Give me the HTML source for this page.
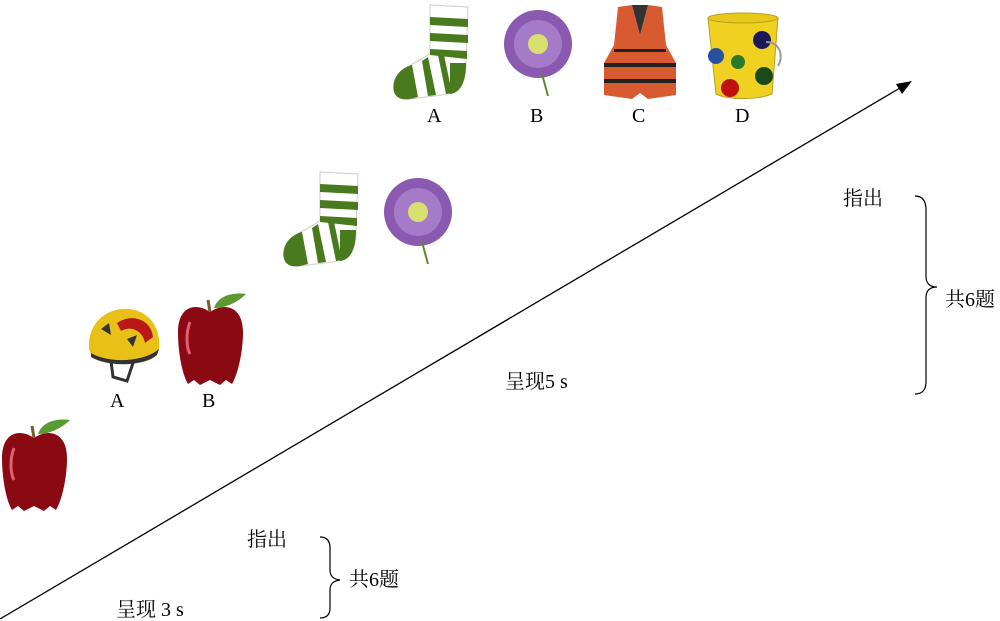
<!DOCTYPE html>
<html><head><meta charset="utf-8"><style>
html,body{margin:0;padding:0;background:#fff;}
svg{display:block;}
text{font-family:"Liberation Serif","Noto Serif CJK SC",serif;font-size:20px;fill:#000;}
</style></head><body>
<svg width="1000" height="621" viewBox="0 0 1000 621" xmlns="http://www.w3.org/2000/svg">
<defs>
<g id="apple">
 <path d="M34 20 C20 10 2 14 2 40 C2 60 6 82 12 92 L18 88 L24 93 L34 88 L44 93 L50 88 L56 92 C62 82 67 60 67 40 C67 14 48 10 34 20Z" fill="#8a0a14"/>
 <path d="M14 30 C10 40 10 55 14 62" stroke="#e06070" stroke-width="3" fill="none"/>
 <path d="M34 20 L32 8" stroke="#7a5a30" stroke-width="3"/>
 <path d="M38 16 C42 4 56 0 70 2 C62 10 50 16 38 16Z" fill="#5a9a30"/>
</g>
<g id="sock">
 <path d="M40 2 L78 4 L76 60 C76 80 70 90 52 92 L20 96 C4 98 0 84 6 74 C14 62 30 60 40 50Z" fill="#fff" stroke="#ccc"/>
 <path d="M40 14 L78 16 L78 24 L40 22Z M40 30 L78 32 L78 40 L40 38Z M40 46 L77 48 L77 56 L40 52Z" fill="#4a7a1e"/>
 <path d="M4 80 C6 70 14 64 22 62 L28 94 L20 96 C6 98 2 90 4 80Z M32 58 L38 54 L46 92 L38 93Z M48 52 L54 52 L62 90 L56 91Z M60 60 L76 60 C76 80 70 90 60 91Z" fill="#4a7a1e"/>
</g>
<g id="flower">
 <circle cx="36" cy="40" r="34" fill="#8a5ab0"/>
 <circle cx="36" cy="40" r="24" fill="#a57ac8"/>
 <circle cx="36" cy="40" r="10" fill="#d8e070"/>
 <path d="M40 70 L46 92" stroke="#5a8a30" stroke-width="2"/>
</g>
<g id="vest">
 <path d="M14 2 L28 0 L36 30 L44 0 L58 2 L62 40 L72 58 L72 90 L44 94 L36 88 L28 94 L0 90 L0 58 L10 40Z" fill="#d85a30"/>
 <path d="M28 0 L36 30 L44 0Z" fill="#333"/>
 <rect x="0" y="58" width="72" height="4" fill="#222"/>
 <rect x="0" y="74" width="72" height="4" fill="#222"/>
 <rect x="10" y="44" width="52" height="3" fill="#222"/>
</g>
<g id="bucket">
 <path d="M0 6 L70 6 L64 82 C50 88 20 88 8 82Z" fill="#f0d020" stroke="#b8a020"/>
 <ellipse cx="35" cy="6" rx="35" ry="5" fill="#e8c818" stroke="#b8a020"/>
 <circle cx="54" cy="28" r="9" fill="#1a1a5a"/>
 <circle cx="8" cy="44" r="8" fill="#2a50a0"/>
 <circle cx="30" cy="50" r="7" fill="#2a7a2a"/>
 <circle cx="56" cy="64" r="9" fill="#1a4a1a"/>
 <circle cx="22" cy="76" r="9" fill="#c01010"/>
 <path d="M58 30 C72 30 76 44 70 54" stroke="#999" stroke-width="2" fill="none"/>
</g>
<g id="helmet">
 <path d="M2 46 C0 20 20 4 42 6 C62 8 74 24 72 46 C70 56 60 60 40 60 C20 60 4 56 2 46Z" fill="#e8c018"/>
 <path d="M30 20 C44 10 64 16 66 34 L58 40 C56 28 44 22 34 28Z" fill="#b81818"/>
 <path d="M14 26 L22 20 L24 32Z M40 36 L50 32 L46 44Z" fill="#333"/>
 <path d="M4 50 C20 60 56 60 72 46 L70 52 C56 64 20 64 4 54Z" fill="#333"/>
 <path d="M24 58 L26 74 L40 78 L46 60" stroke="#333" stroke-width="3" fill="none"/>
</g>
</defs>

<line x1="0" y1="619" x2="900" y2="88" stroke="#000" stroke-width="1.3"/>
<polygon points="912,81 896,84 902,94" fill="#000"/>

<use href="#apple" x="0" y="418"/>
<use href="#helmet" x="87" y="303"/>
<use href="#apple" x="176" y="292"/>
<text x="110" y="407">A</text>
<text x="202" y="407">B</text>

<use href="#sock" x="280" y="170"/>
<use href="#flower" x="382" y="172"/>

<use href="#sock" x="390" y="3"/>
<use href="#flower" x="502" y="4"/>
<use href="#vest" x="604" y="5"/>
<use href="#bucket" x="708" y="12"/>
<text x="427" y="122">A</text>
<text x="530" y="122">B</text>
<text x="632" y="122">C</text>
<text x="735" y="122">D</text>

<text x="843" y="205">指出</text>
<path d="M915 196 C922 196 926 200 926 210 L926 276 C926 284 930 287 937 287 C930 287 926 290 926 298 L926 382 C926 390 922 394 915 394" stroke="#000" stroke-width="1.2" fill="none"/>
<text x="945" y="306">共6题</text>
<text x="505" y="388">呈现5 s</text>

<text x="247" y="546">指出</text>
<path d="M320 537 C326 537 330 540 330 548 L330 570 C330 576 333 579 340 580 C333 581 330 584 330 590 L330 608 C330 615 326 618 320 618" stroke="#000" stroke-width="1.2" fill="none"/>
<text x="349" y="586">共6题</text>
<text x="116" y="616">呈现 3 s</text>
</svg>
</body></html>
